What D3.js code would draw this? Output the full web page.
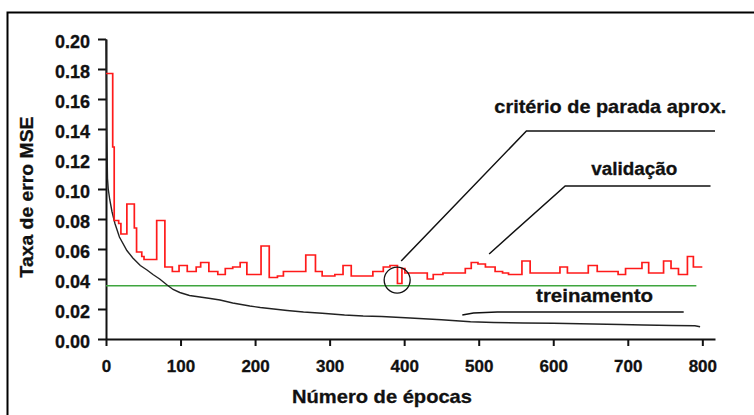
<!DOCTYPE html>
<html lang="pt">
    <head>
        <meta charset="utf-8">
        <title>D3 : Taxa de erro MSE</title>
        <script type="text/javascript" src="https://cdn.jsdelivr.net/npm/d3@7/dist/d3.min.js"></script>
        <style type="text/css">
           body { margin: 0; background: #fff; }
           text {
               font-family: "Liberation Sans", Arial, sans-serif;
               font-weight: bold;
               fill: #111;
               stroke: #111;
               stroke-width: 0.3px;
           }
        </style>
    </head>
    <body>
        <script type="text/javascript">

              var w = 754;
              var h = 415;

              // validacao (curva em degraus)
              var valEpoch = [0, 9, 11, 17, 20, 28, 38, 41, 48, 51, 68, 79, 89, 98, 109, 121, 127, 138, 150, 160,
                              170, 180, 189, 208, 219, 230, 238, 268, 281, 290, 307, 318, 329, 358, 372, 381, 391, 397,
                              401, 431, 439, 452, 482, 490, 499, 509, 522, 532, 540, 558, 569, 609, 619, 647, 659, 687,
                              697, 719, 728, 748, 758, 768, 780, 788, 800];
              var valMse = [0.177, 0.128, 0.079, 0.077, 0.070, 0.090, 0.074, 0.058, 0.055, 0.053, 0.079, 0.048, 0.045,
                            0.049, 0.045, 0.048, 0.051, 0.045, 0.043, 0.047, 0.048, 0.051, 0.043, 0.062, 0.041, 0.042,
                            0.045, 0.056, 0.045, 0.042, 0.043, 0.049, 0.042, 0.045, 0.048, 0.049, 0.037, 0.047, 0.044,
                            0.040, 0.043, 0.044, 0.047, 0.051, 0.050, 0.048, 0.045, 0.044, 0.043, 0.052, 0.044, 0.048,
                            0.044, 0.049, 0.045, 0.043, 0.047, 0.051, 0.044, 0.052, 0.047, 0.043, 0.055, 0.048, 0.048];

              // treinamento
              var trainEpoch = [0, 1, 2, 3, 5, 8, 12, 18, 28, 36, 46, 55, 63, 72, 82, 90, 99, 112, 126, 140, 153, 170,
                                193, 207, 225, 243, 265, 290, 320, 345, 370, 408, 450, 489, 520, 560, 600, 654, 690,
                                721, 760, 790, 797];
              var trainMse = [0.200, 0.140, 0.107, 0.100, 0.093, 0.085, 0.077, 0.068, 0.059, 0.054, 0.049, 0.046,
                              0.043, 0.040, 0.036, 0.033, 0.031, 0.029, 0.028, 0.027, 0.026, 0.024, 0.022, 0.021,
                              0.020, 0.019, 0.018, 0.0172, 0.016, 0.0153, 0.015, 0.014, 0.0128, 0.0115, 0.011,
                              0.0107, 0.0105, 0.010, 0.0097, 0.0093, 0.009, 0.0088, 0.0082];

              // criterio de parada
              var stopMse = 0.0355;
              var stopEpochs = [0, 792];
              var stopPoint = [390.6, 0.0393];

              var xTicks = [0, 100, 200, 300, 400, 500, 600, 700, 800];
              var yTicks = [0, 0.02, 0.04, 0.06, 0.08, 0.10, 0.12, 0.14, 0.16, 0.18, 0.20];

              var labels = ["critério de parada aprox.", "validação", "treinamento"];
              var labelAt = [[521, 0.1507], [651, 0.1093], [577, 0.0247]];
              var leaders = [
                  [[396, 0.052], [564, 0.1387], [817, 0.1387]],
                  [[514, 0.0567], [616, 0.102], [811, 0.102]],
                  [[478, 0.016], [493, 0.0173], [525, 0.018], [775, 0.018]]
              ];

              var x = d3.scaleLinear().domain([0, 817]).range([106, 715]);
              var y = d3.scaleLinear().domain([0, 0.2]).range([339, 39]);

              var svg = d3.select("body")
                          .append("svg")
                          .attr("width", w)
                          .attr("height", h);

              // moldura
              svg.append("path")
                 .attr("d", "M7.5,415V12.5H754")
                 .attr("fill", "none")
                 .attr("stroke", "#000")
                 .attr("stroke-width", 2);

              var xAxis = d3.axisBottom(x)
                            .tickValues(xTicks)
                            .tickSize(7)
                            .tickSizeOuter(0)
                            .tickPadding(14)
                            .tickFormat(d3.format("d"));

              var yAxis = d3.axisLeft(y)
                            .tickValues(yTicks)
                            .tickSize(8)
                            .tickSizeOuter(0)
                            .tickPadding(8)
                            .tickFormat(d3.format(".2f"));

              var gx = svg.append("g")
                          .attr("transform", "translate(0," + y(0) + ")")
                          .call(xAxis);
              gx.selectAll("text").style("font-size", "17px").attr("fill", "#111");

              var gy = svg.append("g")
                          .attr("transform", "translate(" + x(0) + ",0)")
                          .call(yAxis);
              gy.selectAll("text").style("font-size", "18px").attr("dy", "0.45em").attr("fill", "#111");

              svg.selectAll(".domain, .tick line")
                 .attr("stroke", "#111")
                 .attr("stroke-width", 2);

              var line = d3.line()
                           .x(function(d) { return x(d[0]); })
                           .y(function(d) { return y(d[1]); });

              // linha do criterio (verde)
              svg.append("path")
                 .datum(stopEpochs.map(function(e) { return [e, stopMse]; }))
                 .attr("d", line)
                 .attr("fill", "none")
                 .attr("stroke", "#3fa53f")
                 .attr("stroke-width", 1.6);

              // treinamento
              svg.append("path")
                 .datum(trainEpoch.map(function(e, i) { return [e, trainMse[i]]; }))
                 .attr("d", line)
                 .attr("fill", "none")
                 .attr("stroke", "#222")
                 .attr("stroke-width", 1.4);

              // validacao
              svg.append("path")
                 .datum(valEpoch.map(function(e, i) { return [e, valMse[i]]; }))
                 .attr("d", line.curve(d3.curveStepAfter))
                 .attr("fill", "none")
                 .attr("stroke", "#ff1a1a")
                 .attr("stroke-width", 1.7);
              line.curve(d3.curveLinear);

              // anotacoes
              svg.selectAll("path.leader")
                 .data(leaders)
                 .enter()
                 .append("path")
                 .attr("class", "leader")
                 .attr("d", line)
                 .attr("fill", "none")
                 .attr("stroke", "#111")
                 .attr("stroke-width", 1.5);

              svg.append("circle")
                 .attr("cx", x(stopPoint[0]))
                 .attr("cy", y(stopPoint[1]))
                 .attr("r", 13)
                 .attr("fill", "none")
                 .attr("stroke", "#111")
                 .attr("stroke-width", 1.3);

              var labelSize = [19, 18, 19];
              var labelLen = [232, 86, 117];
              svg.selectAll("text.label")
                 .data(labels)
                 .enter()
                 .append("text")
                 .attr("class", "label")
                 .attr("x", function(d, i) { return x(labelAt[i][0]); })
                 .attr("y", function(d, i) { return y(labelAt[i][1]); })
                 .attr("textLength", function(d, i) { return labelLen[i]; })
                 .attr("lengthAdjust", "spacingAndGlyphs")
                 .style("font-size", function(d, i) { return labelSize[i] + "px"; })
                 .text(function(d) { return d; });

              // titulos dos eixos
              svg.append("text")
                 .attr("x", 382)
                 .attr("y", 403)
                 .attr("text-anchor", "middle")
                 .attr("textLength", 180)
                 .attr("lengthAdjust", "spacingAndGlyphs")
                 .style("font-size", "19px")
                 .text("Número de épocas");

              svg.append("text")
                 .attr("transform", "translate(33,197) rotate(-90)")
                 .attr("text-anchor", "middle")
                 .attr("textLength", 161)
                 .attr("lengthAdjust", "spacingAndGlyphs")
                 .style("font-size", "18px")
                 .text("Taxa de erro MSE");

        </script>
    </body>
</html>
